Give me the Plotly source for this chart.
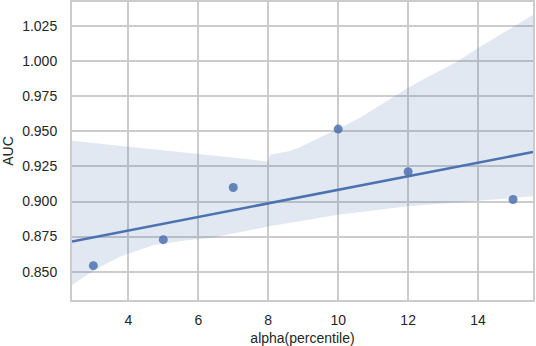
import numpy as np
import plotly.graph_objects as go

# 資料 (讀自圖片)
alpha = [3, 5, 7, 10, 12, 15]
auc = [0.8543, 0.8728, 0.9100, 0.9516, 0.9212, 0.9014]

# 信賴區間邊界 (bootstrap 帶, 讀自圖片)
band_x = [2.39, 4.0, 5.48, 7.19, 8.0, 8.05, 8.61, 8.9, 9.47, 10.0, 10.63,
          12.0, 12.33, 13.38, 14.0, 15.48, 15.57]
band_upper = [0.9433, 0.9390, 0.9350, 0.9305, 0.9286, 0.9333, 0.9360, 0.9386,
              0.9457, 0.9516, 0.9599, 0.9810, 0.9857, 0.9995, 1.0095, 1.0316, 1.0330]
low_x = [2.39, 2.82, 3.3, 3.76, 4.0, 4.71, 5.67, 6.34, 8.0, 10.0, 12.0, 13.95, 15.57]
band_lower = [0.8405, 0.8476, 0.8548, 0.8607, 0.8631, 0.8688, 0.8724, 0.8740,
              0.8821, 0.8905, 0.8966, 0.9004, 0.9037]

x_range = [2.39, 15.57]
y_range = [0.8298, 1.0422]
x_ticks = [4, 6, 8, 10, 12, 14]
y_ticks = [0.850, 0.875, 0.900, 0.925, 0.950, 0.975, 1.000, 1.025]

blue = "#4c72b0"
grid = "#cccccc"

# 迴歸線
slope, inter = np.polyfit(alpha, auc, 1)
line_x = np.array(x_range)
line_y = slope * line_x + inter

fig = go.Figure()

# 信賴區間
fig.add_trace(go.Scatter(
    x=band_x + low_x[::-1],
    y=band_upper + band_lower[::-1],
    fill="toself",
    fillcolor="rgba(76,114,176,0.16)",
    line=dict(width=0),
    mode="lines",
    hoverinfo="skip",
    showlegend=False,
))

fig.add_trace(go.Scatter(
    x=alpha, y=auc, mode="markers",
    marker=dict(color=blue, size=9, opacity=0.85),
    showlegend=False,
))

fig.add_trace(go.Scatter(
    x=line_x, y=line_y, mode="lines",
    line=dict(color=blue, width=2.6),
    showlegend=False,
))

font = dict(family="Liberation Sans, Arial, sans-serif", size=14, color="#262626")

fig.update_xaxes(
    range=x_range, tickvals=x_ticks, ticks="",
    showgrid=True, gridcolor=grid, gridwidth=1.6,
    showline=True, linecolor=grid, linewidth=2, mirror=True,
    zeroline=False, ticklabelstandoff=6, automargin=False,
    title=dict(text="alpha(percentile)", font=font, standoff=6),
    tickfont=font,
)
fig.update_yaxes(
    range=y_range, tickvals=y_ticks, tickformat=".3f", ticks="",
    showgrid=True, gridcolor=grid, gridwidth=1.6,
    showline=True, linecolor=grid, linewidth=2, mirror=True,
    zeroline=False, ticklabelstandoff=10, automargin=False,
    title=dict(text="AUC", font=font, standoff=6),
    tickfont=font,
)

fig.update_layout(
    width=536, height=346,
    margin=dict(l=72, r=3, t=2, b=46),
    plot_bgcolor="white", paper_bgcolor="white",
    font=font,
)

# 去掉頁面預設的 body 邊距
fig.write_html("out.html",
               config={"displayModeBar": False},
               post_script="document.body.style.margin='0';document.body.style.overflow='hidden';")
